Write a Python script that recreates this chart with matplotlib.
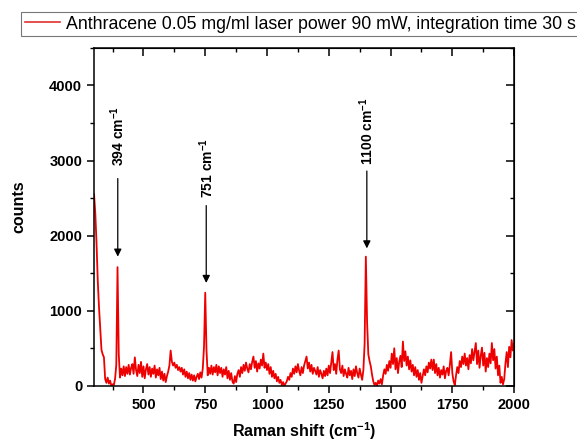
"""Raman spectrum of anthracene with the three marked peaks."""
import matplotlib

matplotlib.use("Agg")
import matplotlib.pyplot as plt
import numpy as np
from matplotlib.lines import Line2D
from matplotlib.ticker import MultipleLocator

plt.rcParams["font.family"] = ["Liberation Sans", "DejaVu Sans"]
plt.rcParams["mathtext.default"] = "regular"

# Raman shift grid (cm^-1) and counts, one value per 5 cm^-1
shift_start, shift_step = 300, 5
counts = [
    2550, 2300, 1900, 1400, 1050, 760, 480, 420, 380, 90,
    40, 110, 30, 70, 0, 20, 10, 90, 280, 1580,
    420, 110, 230, 140, 260, 130, 250, 160, 280, 150,
    240, 290, 160, 380, 210, 130, 280, 170, 320, 120,
    260, 100, 220, 290, 150, 250, 120, 230, 160, 270,
    110, 220, 140, 240, 90, 190, 70, 160, 50, 130,
    190, 270, 470, 320, 270, 310, 240, 280, 210, 250,
    190, 240, 150, 220, 120, 190, 100, 170, 80, 150,
    70, 140, 60, 120, 160, 90, 180, 110, 230, 520,
    1240, 480, 140, 240, 160, 270, 150, 250, 180, 280,
    140, 260, 170, 240, 120, 220, 150, 250, 100, 200,
    80, 170, 60, 30, 130, 50, 160, 210, 120, 250,
    170, 280, 200, 310, 230, 180, 290, 220, 320, 390,
    240, 330, 190, 300, 230, 350, 270, 430, 240, 310,
    210, 290, 160, 250, 120, 200, 100, 160, 60, 120,
    40, 80, 10, 50, 0, 30, 60, 120, 80, 170,
    120, 230, 160, 260, 180, 290, 200, 140, 250, 170,
    270, 330, 390, 230, 310, 190, 280, 160, 240, 200,
    150, 250, 120, 210, 160, 100, 200, 130, 230, 140,
    270, 170, 310, 450, 210, 290, 160, 350, 470, 220,
    170, 270, 130, 220, 160, 110, 240, 140, 200, 90,
    220, 130, 260, 170, 110, 230, 150, 80, 210, 560,
    1720, 850, 420, 330, 260, 150, 60, 10, 40, 0,
    70, 30, 90, 20, 140, 220, 160, 280, 200, 330,
    240, 430, 290, 500, 220, 370, 170, 320, 400, 250,
    590, 330, 460, 270, 390, 220, 340, 190, 280, 140,
    250, 120, 210, 80, 170, 40, 130, 220, 140, 260,
    180, 310, 230, 350, 210, 350, 170, 290, 140, 240,
    110, 210, 150, 260, 100, 200, 240, 140, 280, 450,
    170, 60, 10, 140, 250, 170, 330, 250, 390, 290,
    430, 270, 370, 220, 410, 300, 490, 340, 450, 570,
    290, 470, 240, 400, 510, 270, 440, 190, 370, 250,
    430, 300, 570, 340, 490, 230, 390, 140, 270, 40,
    120, 20, 90, 300, 450, 250, 520, 380, 610, 470,
    560,
]
shift = shift_start + shift_step * np.arange(len(counts))

# peak annotations: label, arrow x, arrow tail, arrow tip, label bottom
peak_labels = ["394", "751", "1100"]
peak_x = [396, 754, 1404]
arrow_tail = [2760, 2400, 2860]
arrow_tip = [1720, 1370, 1830]
label_bottom = [2930, 2500, 2940]

legend_text = "Anthracene 0.05 mg/ml laser power 90 mW, integration time 30 s"


def main():
    fig = plt.figure(figsize=(5.77, 4.43), dpi=100)
    ax = fig.add_axes([0.163, 0.129, 0.728, 0.763])

    ax.plot(shift, counts, color="#ee0000", lw=1.3)

    for lab, x, tail, tip, y0 in zip(peak_labels, peak_x, arrow_tail, arrow_tip, label_bottom):
        ax.annotate("", xy=(x, tip), xytext=(x, tail),
                    arrowprops=dict(arrowstyle="-|>", color="black", lw=0.9,
                                    mutation_scale=11, shrinkA=0, shrinkB=0))
        ax.text(x, y0, lab + " cm$^{-1}$", rotation=90, ha="center", va="bottom",
                fontsize=10, fontweight="bold")

    ax.set_xlim(300, 2000)
    ax.set_ylim(0, 4500)
    ax.xaxis.set_major_locator(MultipleLocator(250))
    ax.xaxis.set_minor_locator(MultipleLocator(125))
    ax.yaxis.set_major_locator(MultipleLocator(1000))
    ax.yaxis.set_minor_locator(MultipleLocator(500))
    ax.set_xticks([500, 750, 1000, 1250, 1500, 1750, 2000])

    ax.tick_params(which="major", direction="out", length=5, width=1.1, labelsize=10.5)
    ax.tick_params(which="minor", direction="out", length=3, width=1.0)
    for lab in ax.get_xticklabels() + ax.get_yticklabels():
        lab.set_fontweight("bold")
    for sp in ax.spines.values():
        sp.set_linewidth(1.1)

    top = ax.secondary_xaxis("top")
    top.xaxis.set_major_locator(MultipleLocator(250))
    top.xaxis.set_minor_locator(MultipleLocator(125))
    top.tick_params(which="major", direction="in", length=6, width=1.1, labeltop=False)
    top.tick_params(which="minor", direction="in", length=3, width=1.0)
    right = ax.secondary_yaxis("right")
    right.yaxis.set_major_locator(MultipleLocator(1000))
    right.yaxis.set_minor_locator(MultipleLocator(500))
    right.tick_params(which="major", direction="in", length=6, width=1.1, labelright=False)
    right.tick_params(which="minor", direction="in", length=3, width=1.0)

    ax.set_xlabel("Raman shift (cm$^{-1}$)", fontsize=11.5, fontweight="bold", labelpad=6)
    ax.set_ylabel("counts", fontsize=11.5, fontweight="bold")
    ax.yaxis.set_label_coords(-0.162, 0.53)

    handle = Line2D([], [], color="#e03030", lw=1.2)
    leg = fig.legend([handle], [legend_text], loc="upper left",
                     bbox_to_anchor=(21 / 577, 1 - 12 / 443), fontsize=12.8,
                     frameon=True, fancybox=False, edgecolor="#555555",
                     borderaxespad=0, borderpad=0.2, handlelength=2.0,
                     handletextpad=0.35)
    leg.get_frame().set_linewidth(0.8)

    fig.savefig("out.png", dpi=100)
    plt.close(fig)


if __name__ == "__main__":
    main()
